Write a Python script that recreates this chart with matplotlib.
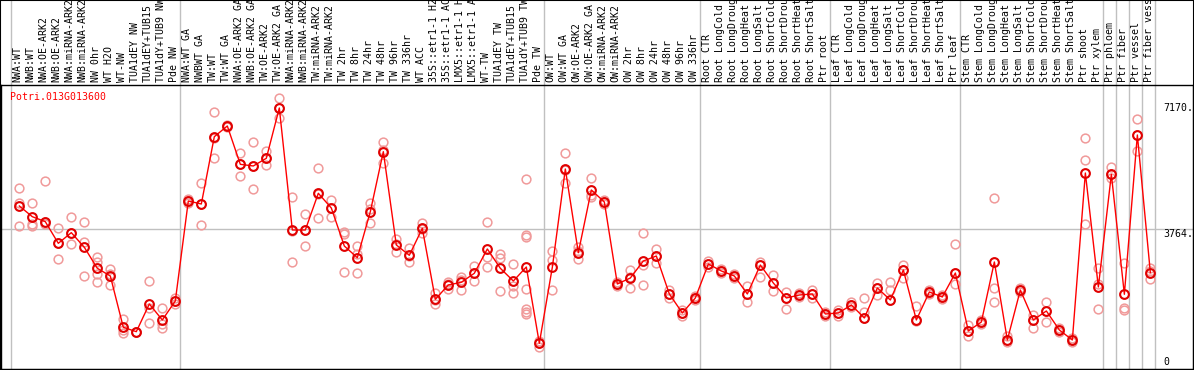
import matplotlib
matplotlib.use("Agg")
import matplotlib.pyplot as plt
from matplotlib.patches import Rectangle
import matplotlib.transforms as mtransforms

title = "Potri.013G013600"

samples = [
    "NWA:WT", "NWB:WT", "NWA:OE-ARK2", "NWB:OE-ARK2", "NWA:miRNA-ARK2", "NWB:miRNA-ARK2",
    "NW 0hr", "WT H2O", "WT-NW", "TUA1dEY NW", "TUA1dEY+TUB15", "TUA1dY+TUB9 NW", "Pde NW",
    "NWA:WT GA", "NWBWT GA", "TW:WT", "TW:WT GA", "NWA:OE-ARK2 GA", "NWB:OE-ARK2 GA",
    "TW:OE-ARK2", "TW:OE-ARK2 GA", "NWA:miRNA-ARK2", "NWB:miRNA-ARK2", "TW:miRNA-ARK2",
    "TW:miRNA-ARK2", "TW 2hr", "TW 8hr", "TW 24hr", "TW 48hr", "TW 96hr", "TW 336hr",
    "WT ACC", "35S::etr1-1 H2", "35S::etr1-1 AC", "LMX5::etr1-1 H", "LMX5::etr1-1 A",
    "WT-TW", "TUA1dEY TW", "TUA1dEY+TUB15", "TUA1dY+TUB9 TW", "Pde TW",
    "OW:WT", "OW:WT GA", "OW:OE-ARK2", "OW:OE-ARK2 GA", "OW:miRNA-ARK2", "OW:miRNA-ARK2",
    "OW 2hr", "OW 8hr", "OW 24hr", "OW 48hr", "OW 96hr", "OW 336hr",
    "Root CTR", "Root LongCold", "Root LongDroug", "Root LongHeat", "Root LongSalt",
    "Root ShortCold", "Root ShortDrou", "Root ShortHeat", "Root ShortSalt", "Ptr root",
    "Leaf CTR", "Leaf LongCold", "Leaf LongDroug", "Leaf LongHeat", "Leaf LongSalt",
    "Leaf ShortCold", "Leaf ShortDrou", "Leaf ShortHeat", "Leaf ShortSalt", "Ptr leaf",
    "Stem CTR", "Stem LongCold", "Stem LongDroug", "Stem LongHeat", "Stem LongSalt",
    "Stem ShortCold", "Stem ShortDrou", "Stem ShortHeat", "Stem ShortSalt", "Ptr shoot",
    "Ptr xylem", "Ptr phloem", "Ptr fiber", "Ptr vessel", "Ptr fiber vess",
]

means = [
    4404, 4102, 3961, 3350, 3651, 3238, 2645, 2428, 979, 856, 1637, 1186, 1722,
    4545, 4460, 6360, 6662, 5580, 5533, 5750, 7170, 3726, 3726, 4762, 4347, 3274, 2944,
    4243, 5937, 3303, 3012, 3773, 1770, 2174, 2250, 2504, 3190, 2645, 2286, 2682, 528,
    2673, 5448, 3086, 4855, 4517, 2202, 2371, 2851, 2992, 1920, 1383, 1807,
    2766, 2569, 2428, 1920, 2738, 2230, 1807, 1891, 1920, 1355,
    1383, 1609, 1242, 2089, 1750, 2597, 1186, 1976, 1835, 2512,
    875, 1129, 2823, 621, 2032, 1186, 1440, 903, 621, 5335,
    2117, 5298, 1911, 6408, 2521,
]

replicates = [
    [4903, 4497, 3839], [4480, 3900, 3840], [5109, 3960, 3896], [3774, 3350, 2899],
    [4102, 3651, 3331], [3943, 3396, 2428], [2956, 2820, 2476, 2258], [2625, 2480, 2174],
    [1214, 903, 827], [860, 850, 860], [2286, 1516, 1092], [1516, 1073, 951],
    [1800, 1720, 1640],
    [4601, 4545, 4480], [5044, 4470, 3867], [7066, 6315, 5750], [6700, 6660, 6620],
    [5908, 5580, 5259], [6202, 5520, 4883], [5965, 5750, 5551], [7450, 7170, 6890],
    [4667, 3700, 2814], [4169, 3726, 3274], [5468, 4750, 4073], [4573, 4360, 4102],
    [3678, 3613, 2532], [3274, 3050, 2504], [4480, 4330, 3915], [6210, 5990, 5610],
    [3464, 3330, 3114], [3227, 2990, 2823], [3915, 3760, 3651], [1939, 1740, 1637],
    [2267, 2200, 2052], [2408, 2310, 2032], [2710, 2516, 2286], [3943, 2956, 2673],
    [3049, 2927, 2004], [2758, 2154, 1939],
    [5157, 3585, 3520, 2052, 1488, 1420, 1355], [601, 540, 432],
    [3133, 2879, 2032], [5891, 5410, 5044], [3237, 3120, 2899], [5194, 4720, 4658],
    [4573, 4460, 4517], [2250, 2200, 2150], [2600, 2400, 2100], [3641, 2738, 2174],
    [3200, 2990, 2790], [2030, 1920, 1810], [1470, 1383, 1300], [1860, 1807, 1750],
    [2850, 2766, 2680], [2620, 2569, 2520], [2480, 2428, 2380], [2145, 1920, 1700],
    [2820, 2738, 2400], [2460, 2230, 2000], [1980, 1807, 1500], [1950, 1891, 1830],
    [2030, 1920, 1810], [1410, 1355, 1300],
    [1470, 1383, 1300], [1680, 1609, 1540], [1807, 1400, 1242], [2230, 2089, 1890],
    [2260, 2030, 1750], [2738, 2597, 2370], [1580, 1186, 1150], [2030, 1976, 1920],
    [1890, 1835, 1780], [3331, 2512, 2200],
    [1030, 875, 735], [1186, 1129, 1070], [4630, 2089, 1700], [735, 621, 560],
    [2089, 2032, 1975], [1330, 1186, 960], [1700, 1440, 1130], [960, 903, 850],
    [680, 621, 560], [6323, 5702, 3896],
    [2650, 2200, 1500], [5496, 5300, 5204], [2786, 1533, 1468], [6851, 6400, 5956],
    [2645, 2580, 2334],
]

group_ends = [-1, 12, 40, 52, 62, 72, 83, 84, 85, 86, 87]
ref_value = 3764
axis_labels = [(7170, "7170."), (3764, "3764."), (0, "0")]

W, H = 1194, 370
fig = plt.figure(figsize=(W / 100, H / 100), dpi=100)
# plot area in pixels: x 1..1193, y 85..369 (from top)
ax = fig.add_axes([1 / W, (H - 369) / H, 1192 / W, 284 / H])
ax.set_xlim(-1.408, 90.28)
ax.set_ylim(-198, 7819)
ax.set_xticks([])
ax.set_yticks([])
for s in ax.spines.values():
    s.set_color("black")
    s.set_linewidth(1.0)

mono = "DejaVu Sans Mono"
xs = list(range(len(samples)))

# group separators
for g in group_ends:
    ax.axvline(g + 0.34, ymin=0, ymax=369 / 284, color="#c0c0c0", lw=1.0,
               clip_on=False, zorder=1)
ax.axhline(ref_value, color="#c0c0c0", lw=1.0, zorder=1)

# replicates
rx, ry = [], []
for i, reps in enumerate(replicates):
    for v in reps:
        rx.append(i)
        ry.append(v)
ax.plot(rx, ry, ls="none", marker="o", ms=6.3, mfc="none", mec="#f09a9a", mew=1.1, zorder=2)

# means
ax.plot(xs, means, color="#ff0000", lw=1.0, marker="o", ms=6.3, mfc="none",
        mec="#e00000", mew=1.5, zorder=3)

# sample labels
trans = mtransforms.blended_transform_factory(ax.transData, ax.transAxes)
for i, name in enumerate(samples):
    ax.text(i - 0.12, 1 + 3 / 284, name, transform=trans, rotation=90, ha="center",
            va="bottom", fontsize=7.1, family=mono, color="black", clip_on=False)

# title
ax.text(9 / 1192, (369 - 96.7) / 284, title, transform=ax.transAxes, color="#ff0000",
        fontsize=7.1, family=mono, ha="left", va="center")

# right side scale labels
trans2 = mtransforms.blended_transform_factory(ax.transAxes, ax.transData)
for v, lab in axis_labels:
    va = "top" if v == ref_value else "center"
    ax.text(1162 / 1192, v, lab, transform=trans2, fontsize=7.1, family=mono,
            ha="left", va=va, color="black")

# figure border and header separator
fig.patches.append(Rectangle((0, 0), 1, 1, transform=fig.transFigure, fill=False,
                             ec="black", lw=1.5))

fig.savefig("out.png", dpi=100)
